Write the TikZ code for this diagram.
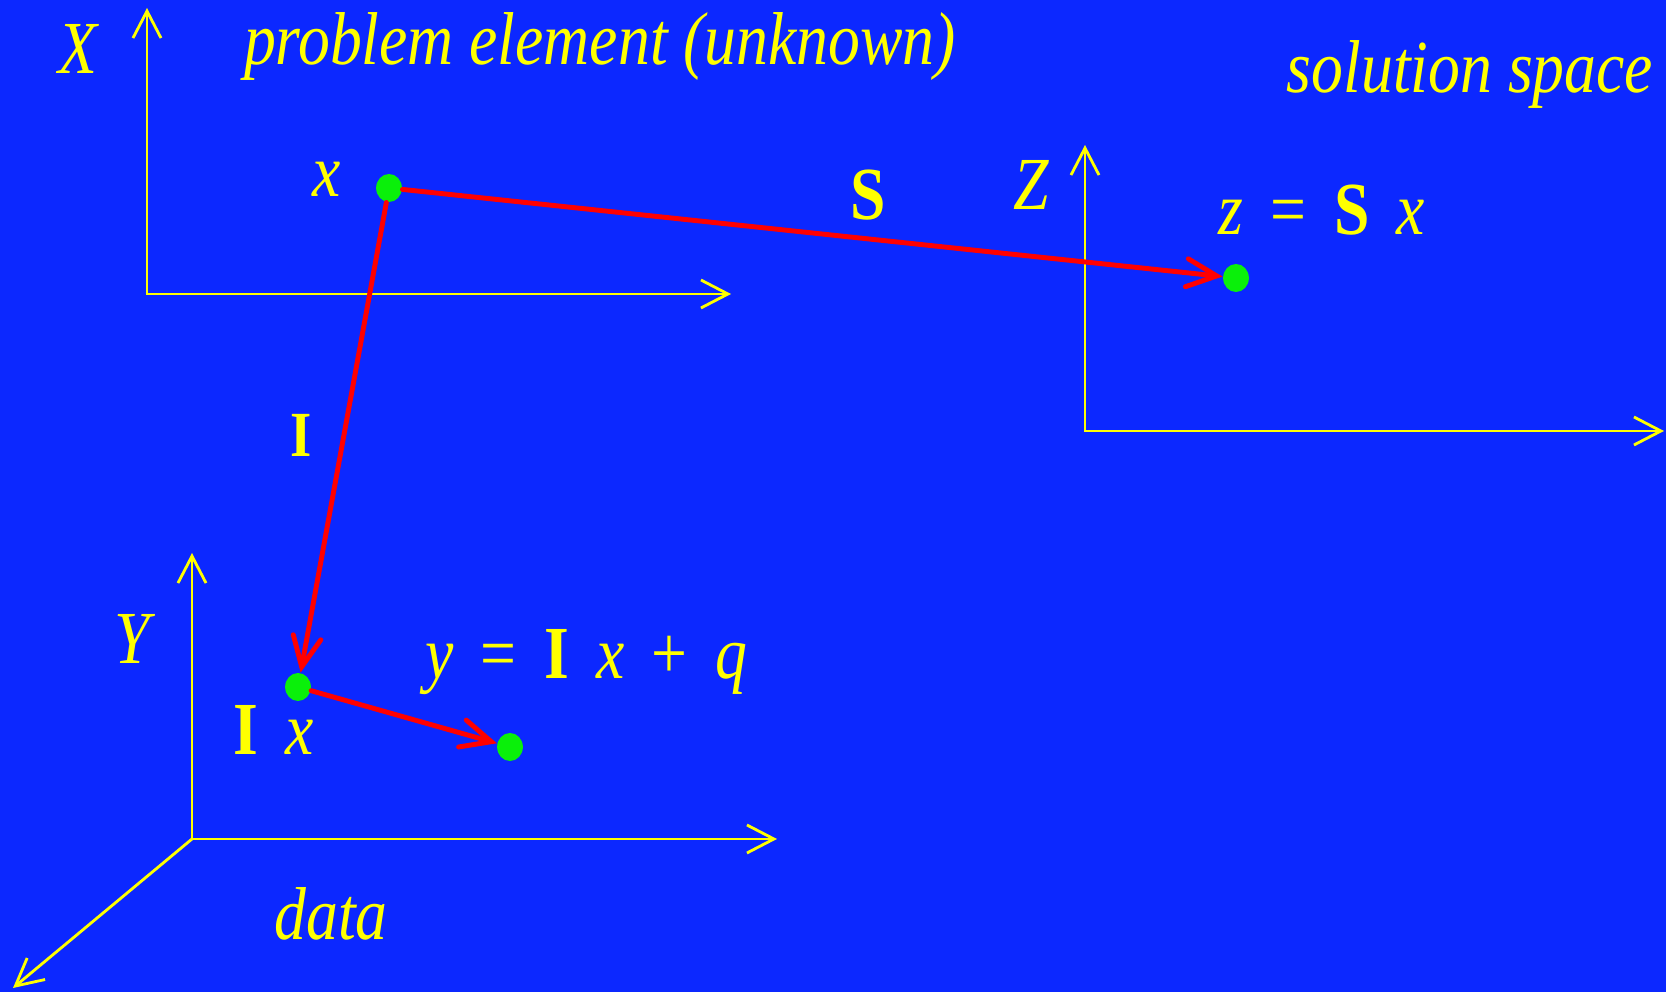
\documentclass[tikz,border=0pt]{standalone}
\usepackage{fontspec}
\setmainfont{Liberation Serif}
\usetikzlibrary{arrows.meta}
\definecolor{bgblue}{RGB}{12,40,255}
\definecolor{axisyellow}{RGB}{255,255,0}
\definecolor{ptgreen}{RGB}{10,240,10}
\definecolor{mapred}{RGB}{255,0,0}
\newcommand\gap{\hspace{0.43em}}
\begin{document}
\begin{tikzpicture}[x=0.01cm,y=-0.01cm,
  lbl/.style={text=axisyellow,font=\fontsize{21.3}{25}\selectfont\itshape,xscale=0.85,inner sep=0pt,anchor=base},
  axis/.style={draw=axisyellow,line width=0.8pt,>={Straight Barb[length=2.7mm,width=2.8mm]}},
  maparrow/.style={draw=mapred,line width=1.4pt,line cap=round,-{Straight Barb[length=3mm,width=2.8mm,line cap=round]}},
  dot/.style={circle,fill=ptgreen,inner sep=0pt,minimum size=0.28cm,xscale=0.92}]
\fill[bgblue] (0,0) rectangle (1666,992);
\useasboundingbox (0,0) rectangle (1666,992);
% axes
\coordinate (xo) at (147,294);\coordinate (xtop) at (147,8);\coordinate (xright) at (731,294);
\coordinate (zo) at (1085,431);\coordinate (ztop) at (1085,145);\coordinate (zright) at (1664,431);
\coordinate (yo) at (192,839);\coordinate (ytop) at (192,553);\coordinate (yright) at (777,839);
\coordinate (ydiag) at (13,988);
\draw[axis,<->] (xtop)--(xo)--(xright);
\draw[axis,<->] (ztop)--(zo)--(zright);
\draw[axis,<->] (ytop)--(yo)--(yright);
\draw[axis,->] (yo)--(ydiag);
% labels
\node[lbl] (Xlab) at (78,74) {X};
\node[lbl] (prob) at (600,65) {problem element (unknown)};
\node[lbl] (sol) at (1470,93) {solution space};
\node[lbl] (xlab) at (327,197) {x};
\node[lbl] (Slab) at (868,220) {\bfseries\upshape S};
\node[lbl] (Zlab) at (1031,210) {Z};
\node[lbl] (zeq) at (1322,235) {z\gap{\upshape=}\gap{\bfseries\upshape S}\gap x};
\node[lbl,font=\fontsize{18.3}{22}\selectfont] (Ilab) at (301,457) {\bfseries I};
\node[lbl] (Ylab) at (132,664) {Y};
\node[lbl] (Ixlab) at (274,755) {{\bfseries\upshape I}\gap x};
\node[lbl] (yeq) at (586,679) {y\gap{\upshape=}\gap{\bfseries\upshape I}\gap x\gap{\upshape+}\gap q};
\node[lbl] (datalab) at (331,940) {data};
% points and maps
\node[dot] (px) at (389,188) {};
\node[dot] (pz) at (1236,278) {};
\node[dot] (pIx) at (298,687) {};
\node[dot] (py) at (510,747) {};
\draw[maparrow] (px)--(pz);
\draw[maparrow] (px)--(pIx);
\draw[maparrow] (pIx)--(py);
\end{tikzpicture}
\end{document}
